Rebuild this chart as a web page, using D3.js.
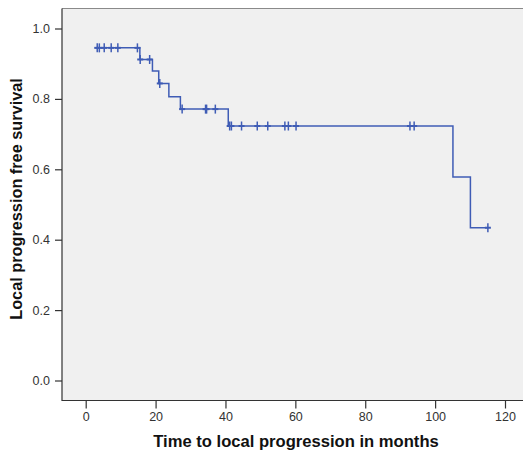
<!DOCTYPE html>
<html>
<head>
<meta charset="utf-8">
<script src="https://cdn.jsdelivr.net/npm/d3@7"></script>
<style>
  body { margin: 0; background: #fff; }
  svg { display: block; font-family: "Liberation Sans", Arial, sans-serif; }
</style>
</head>
<body>
<div class="km-chart"></div>
<script>
// Kaplan-Meier curve: local progression free survival

// step start times (months) and survival level from that time on
const stepTimes = [2.7, 15.5, 19.1, 20.9, 23.8, 27.1, 40.8, 105.1, 110.1];
const survival = [0.945, 0.912, 0.879, 0.844, 0.806, 0.771, 0.723, 0.578, 0.434];
const endTime = 115.1;

// censored observations (months)
const censorTimes = [3.3, 3.9, 5.3, 7.3, 9.2, 14.8, 15.6, 18.3, 21.2, 27.6, 34.3, 34.6, 37.1,
    41.2, 41.7, 44.6, 49.1, 52.1, 57.0, 58.0, 60.2, 92.8, 94.0, 115.1];

const xTicks = [0, 20, 40, 60, 80, 100, 120];
const yTicks = [0.0, 0.2, 0.4, 0.6, 0.8, 1.0];

const width = 523, height = 457;
const frame = { left: 62, top: 8.5, right: 524, bottom: 400.5 };

const svg = d3.select('.km-chart')
    .append('svg')
    .attr('width', width)
    .attr('height', height);

// Scales
const xScale = d3.scaleLinear().domain([0, 120]).range([85.7, 505]);
const yScale = d3.scaleLinear().domain([0, 1]).range([380.5, 28.5]);

// Plot background
svg.append('rect')
    .attr('x', frame.left)
    .attr('y', frame.top)
    .attr('width', frame.right - frame.left)
    .attr('height', frame.bottom - frame.top)
    .attr('fill', '#f0f0f0');

svg.append('line')
    .attr('x1', frame.left).attr('x2', frame.right)
    .attr('y1', frame.top).attr('y2', frame.top)
    .attr('stroke', '#8a8a8a');

// Y axis
const yAxis = svg.append('g')
    .attr('transform', `translate(${frame.left},0)`)
    .call(d3.axisLeft(yScale).tickValues(yTicks).tickFormat(d3.format('.1f')).tickSize(7).tickPadding(5));

// X axis
const xAxis = svg.append('g')
    .attr('transform', `translate(0,${frame.bottom})`)
    .call(d3.axisBottom(xScale).tickValues(xTicks).tickSize(8).tickPadding(4));

[xAxis, yAxis].forEach(ax => {
    ax.select('.domain').remove();
    ax.selectAll('line').attr('stroke', '#333').attr('stroke-width', 1.2);
    ax.selectAll('text').attr('fill', '#333').attr('font-size', '12.5px')
        .attr('font-family', '"Liberation Sans", Arial, sans-serif');
});

// Frame left + bottom
svg.append('path')
    .attr('d', `M${frame.left},${frame.top}V${frame.bottom}H${frame.right}`)
    .attr('fill', 'none')
    .attr('stroke', '#333')
    .attr('stroke-width', 1.2);

// Survival step line
const pts = stepTimes.map((t, i) => [t, survival[i]]);
pts.push([endTime, survival[survival.length - 1]]);

const line = d3.line()
    .x(d => xScale(d[0]))
    .y(d => yScale(d[1]))
    .curve(d3.curveStepAfter);

const color = '#3f5cb5';

svg.append('path')
    .datum(pts)
    .attr('d', line)
    .attr('fill', 'none')
    .attr('stroke', color)
    .attr('stroke-width', 1.5);

// Censor marks
const levelAt = t => {
    let s = survival[0];
    stepTimes.forEach((st, i) => { if (t >= st) s = survival[i]; });
    return s;
};

const marks = svg.append('g')
    .selectAll('g')
    .data(censorTimes)
    .enter()
    .append('g')
    .attr('transform', d => `translate(${xScale(d)},${yScale(levelAt(d))})`);

marks.append('line')
    .attr('x1', 0).attr('x2', 0).attr('y1', -4.5).attr('y2', 4.5)
    .attr('stroke', color).attr('stroke-width', 1.5);

marks.append('line')
    .attr('x1', -3).attr('x2', 3).attr('y1', 0).attr('y2', 0)
    .attr('stroke', color).attr('stroke-width', 2);

// Axis titles
svg.append('text')
    .attr('x', 296)
    .attr('y', 447)
    .attr('text-anchor', 'middle')
    .attr('font-size', '16.6px')
    .attr('font-weight', 'bold')
    .attr('fill', '#111')
    .text('Time to local progression in months');

svg.append('text')
    .attr('transform', 'translate(22,199) rotate(-90)')
    .attr('text-anchor', 'middle')
    .attr('font-size', '16.3px')
    .attr('font-weight', 'bold')
    .attr('fill', '#111')
    .text('Local progression free survival');
</script>
</body>
</html>
